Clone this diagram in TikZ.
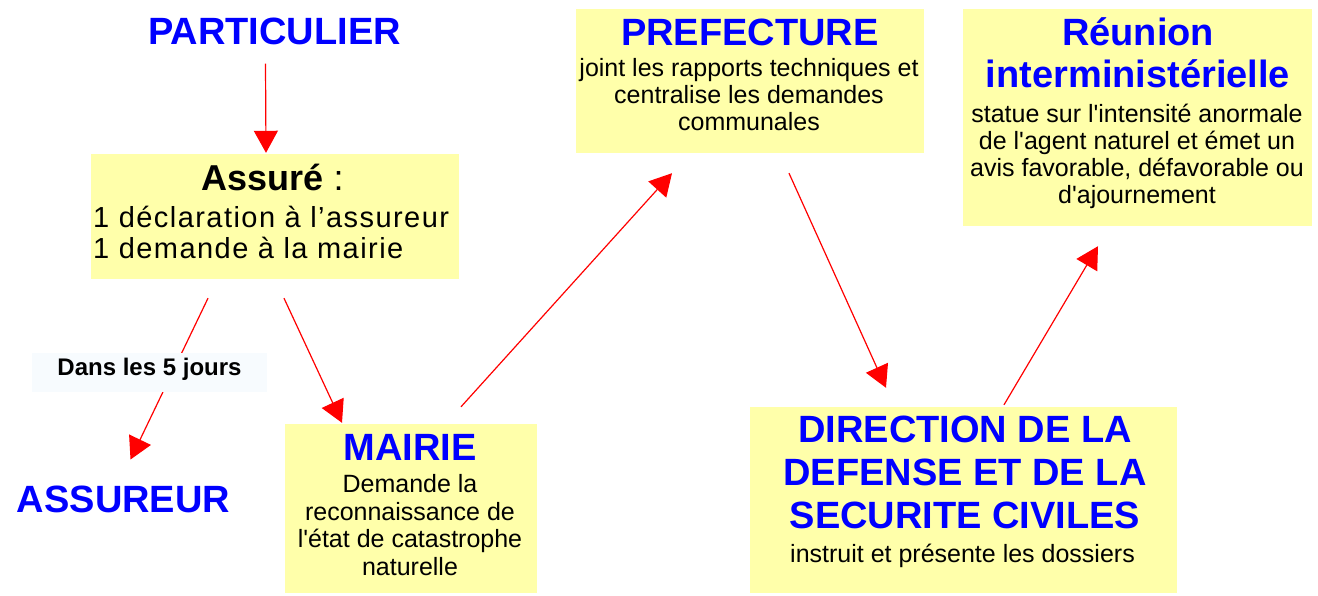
\documentclass[tikz,border=0pt]{standalone}
\usepackage{fontspec}
\newfontfamily\arial{Liberation Sans}
\newfontfamily\arialwide{Liberation Sans}[LetterSpace=5]
\usetikzlibrary{arrows.meta,positioning}
\definecolor{pale}{HTML}{FFFFAA}
\definecolor{titleblue}{HTML}{0000FF}
\definecolor{flowred}{HTML}{FF0000}
\definecolor{haze}{HTML}{F7FBFE}
\tikzset{
  box/.style={fill=pale, draw=none, inner sep=0pt},
  head/.style={text=titleblue, font=\arial\fontsize{38}{43}\selectfont\bfseries,
               align=center, inner sep=0pt},
  body/.style={font=\arial\fontsize{25}{27}\selectfont, align=center, inner sep=0pt},
  flow/.style={-{Triangle[length=22pt,width=24pt]}, draw=flowred, line width=1.2pt}
}

\begin{document}
\begin{tikzpicture}[x=1pt,y=-1pt]
  \useasboundingbox (0,0) rectangle (1318,595);

  % yellow panels
  \node[box, minimum width=368pt, minimum height=125pt] (assure) at (275,216.5) {};
  \node[box, minimum width=348pt, minimum height=144pt] (prefecture) at (750,81) {};
  \node[box, minimum width=349pt, minimum height=217pt] (reunion) at (1137.5,117.5) {};
  \node[box, minimum width=427pt, minimum height=186pt] (ddsc) at (963.5,500) {};
  \node[box, minimum width=252pt, minimum height=169pt] (mairie) at (411,508.5) {};

  % free titles
  \node[head] (particulier) at (274.5,31.5) {PARTICULIER};
  \node[head] (assureur) at (123.5,499.5) {ASSUREUR};

  % panel texts (base = last line)
  \node[anchor=base, inner sep=0pt, font=\arial\fontsize{36}{40}\selectfont]
    (assure-t) at (272.5,190) {\textbf{Assuré} :};
  \node[anchor=base west, inner sep=0pt, align=left,
        font=\arialwide\fontsize{29}{31}\selectfont]
    (assure-b) at (93,258) {1 déclaration à l’assureur\\1 demande à la mairie};

  \node[head, anchor=base] (prefecture-t) at (750,45) {PREFECTURE};
  \node[body, anchor=base] (prefecture-b) at (749,130)
    {joint les rapports techniques et\\centralise les demandes\\communales};

  \node[head, anchor=base, font=\arial\fontsize{38}{42}\selectfont\bfseries]
    (reunion-t) at (1138,87) {Réunion\\interministérielle};
  \node[body, anchor=base] (reunion-b) at (1137,203)
    {statue sur l'intensité anormale\\de l'agent naturel et émet un\\avis favorable, défavorable ou\\d'ajournement};

  \node[head, anchor=base] (ddsc-t) at (965,528)
    {DIRECTION DE LA\\DEFENSE ET DE LA\\SECURITE CIVILES};
  \node[body, anchor=base] (ddsc-b) at (962.5,562) {instruit et présente les dossiers};

  \node[head, anchor=base] (mairie-t) at (410,460) {MAIRIE};
  \node[body, anchor=base, font=\arial\fontsize{25}{27.5}\selectfont] (mairie-b) at (410,575)
    {Demande la\\reconnaissance de\\l'état de catastrophe\\naturelle};

  % flow of the request
  \draw[flow] ([shift={(-9,32)}]particulier.center) -- ([shift={(-9,-1)}]assure.north);
  \draw[flow] ([shift={(-67,19)}]assure.south) -- ([shift={(7,-40)}]assureur.center);
  \draw[flow] ([shift={(9,19)}]assure.south) -- ([shift={(-69,-1)}]mairie.north);
  \draw[flow] ([shift={(50,-17)}]mairie.north) -- ([shift={(-78,20)}]prefecture.south);
  \draw[flow] ([shift={(39,20)}]prefecture.south) -- ([shift={(-77.5,-19)}]ddsc.north);
  \draw[flow] ([shift={(40.5,-2)}]ddsc.north) -- ([shift={(-39.5,20)}]reunion.south);

  % delay label over the left arrow
  \node[fill=haze, minimum width=235pt, minimum height=39pt, text depth=11pt,
        inner sep=0pt, font=\arial\fontsize{24}{26}\selectfont\bfseries]
    (delai) at (149.5,372.5) {Dans les 5 jours};
\end{tikzpicture}
\end{document}
